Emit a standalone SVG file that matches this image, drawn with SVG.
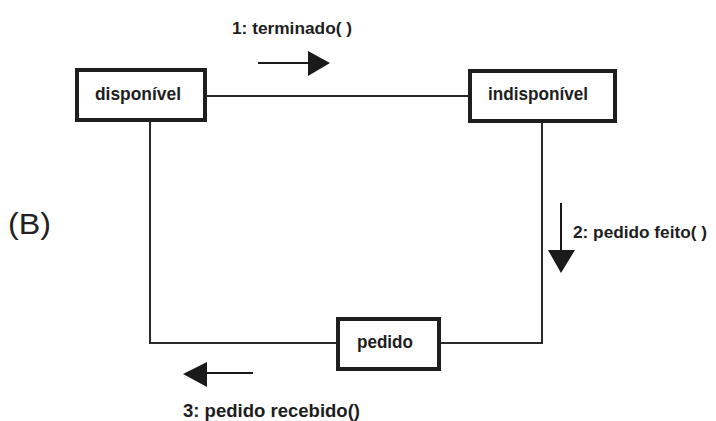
<svg xmlns="http://www.w3.org/2000/svg" width="716" height="421" viewBox="0 0 716 421">
  <style>
    .box { fill: #ffffff; stroke: #1e1e1e; stroke-width: 4; }
    .conn { fill: none; stroke: #2a2a2a; stroke-width: 2; }
    .arr { stroke: #1a1a1a; stroke-width: 2; fill: none; }
    .head { fill: #1a1a1a; stroke: none; }
    .lbl { font-family: "Liberation Sans", Arial, sans-serif; font-weight: bold; font-size: 19px; fill: #1e1e1e; }
    .msg { font-family: "Liberation Sans", Arial, sans-serif; font-weight: bold; font-size: 17px; fill: #1e1e1e; }
    .tag { font-family: "Liberation Sans", Arial, sans-serif; font-size: 29px; fill: #222222; }
  </style>
  <rect width="716" height="421" fill="#ffffff"/>

  <text class="tag" x="8" y="234" textLength="43" lengthAdjust="spacingAndGlyphs">(B)</text>

  <g id="connectors">
    <line class="conn" x1="207" y1="96" x2="468" y2="96"/>
    <polyline class="conn" points="150,122 150,343 336,343"/>
    <polyline class="conn" points="441,343 542,343 542,123"/>
  </g>

  <g id="disponivel">
    <rect class="box" x="77" y="70" width="128" height="50"/>
    <text class="lbl" x="95" y="100" textLength="86" lengthAdjust="spacingAndGlyphs">disponível</text>
  </g>

  <g id="indisponivel">
    <rect class="box" x="470" y="71" width="145" height="50"/>
    <text class="lbl" x="488" y="100" textLength="100" lengthAdjust="spacingAndGlyphs">indisponível</text>
  </g>

  <g id="pedido">
    <rect class="box" x="338" y="319" width="101" height="50"/>
    <text class="lbl" x="357" y="348" textLength="56" lengthAdjust="spacingAndGlyphs">pedido</text>
  </g>

  <g id="msg1">
    <text class="msg" x="232" y="34" textLength="120" lengthAdjust="spacingAndGlyphs">1: terminado( )</text>
    <line class="arr" x1="258" y1="63" x2="310" y2="63"/>
    <polygon class="head" points="308,51 330,63 308,76"/>
  </g>

  <g id="msg2">
    <line class="arr" x1="561" y1="203" x2="561" y2="252"/>
    <polygon class="head" points="548,250 575,250 561,273"/>
    <text class="msg" x="573" y="238" textLength="134" lengthAdjust="spacingAndGlyphs">2: pedido feito( )</text>
  </g>

  <g id="msg3">
    <line class="arr" x1="253" y1="373" x2="205" y2="373"/>
    <polygon class="head" points="207,362 183,374 207,387"/>
    <text class="msg" x="183" y="417" style="font-size:18px" textLength="177" lengthAdjust="spacingAndGlyphs">3: pedido recebido()</text>
  </g>
</svg>
